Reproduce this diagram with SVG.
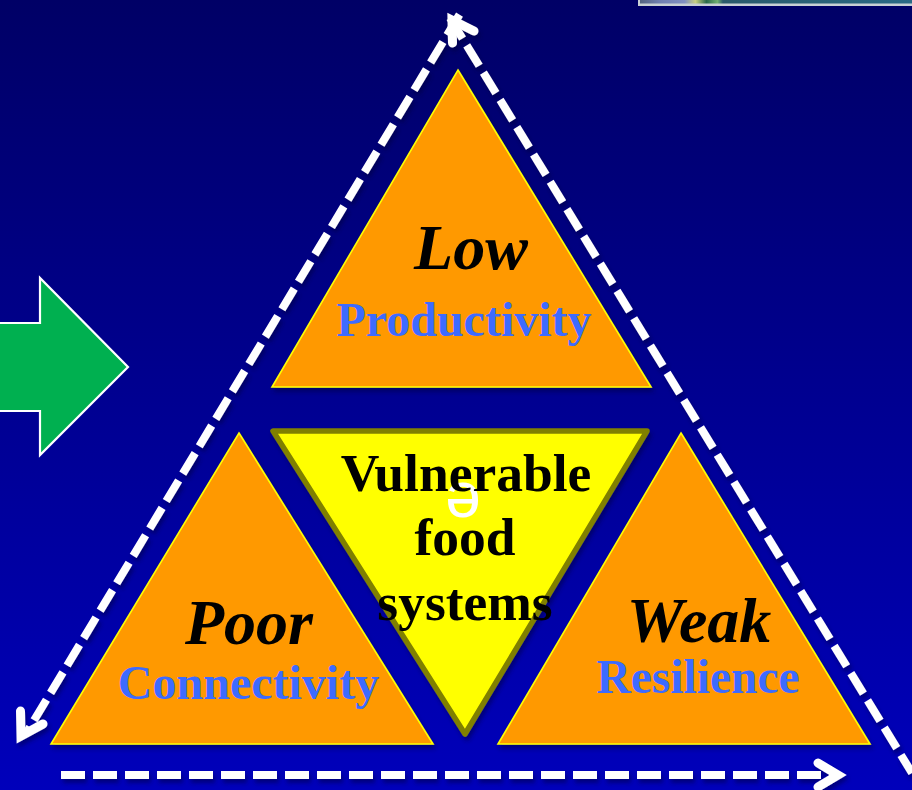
<svg xmlns="http://www.w3.org/2000/svg" width="912" height="790" viewBox="0 0 912 790">
<defs>
<linearGradient id="bg" x1="0" y1="0" x2="0" y2="1"><stop offset="0" stop-color="#000066"/><stop offset="1" stop-color="#0000bb"/></linearGradient>
<linearGradient id="inset" x1="638" y1="0" x2="912" y2="0" gradientUnits="userSpaceOnUse"><stop offset="0" stop-color="#50607a"/><stop offset="0.08" stop-color="#7080b0"/><stop offset="0.17" stop-color="#8090c0"/><stop offset="0.21" stop-color="#c8d080"/><stop offset="0.25" stop-color="#2a6a4a"/><stop offset="0.29" stop-color="#70b070"/><stop offset="0.31" stop-color="#2a5a6a"/><stop offset="1" stop-color="#2a6a85"/></linearGradient>
<filter id="sh" x="-10%" y="-10%" width="120%" height="120%"><feDropShadow dx="2" dy="4" stdDeviation="2" flood-color="#000033" flood-opacity="0.45"/></filter>
</defs>
<style>
.tri{fill:#ff9900;stroke:#ffff00;stroke-width:1.6;stroke-linejoin:miter;filter:url(#sh)}
.dash{fill:none;stroke:#fff;stroke-width:8;stroke-dasharray:24 8}
.head{fill:none;stroke:#fff;stroke-width:9;stroke-linejoin:miter;stroke-miterlimit:10;stroke-linecap:round}
text{font-family:"Liberation Serif","Times New Roman",serif;font-weight:bold;text-anchor:middle}
.big{font-size:64px;font-style:italic;fill:#000}
.sub{fill:#3d6bff;font-size:48px}
.mid{font-size:53.5px;fill:#000}
</style>
<rect width="912" height="790" fill="url(#bg)"/>
<g id="inset-picture"><rect x="638" y="0" width="274" height="6" fill="#c8d0d4"/><rect x="640" y="0" width="272" height="3.5" fill="url(#inset)"/></g>
<g id="connectors" filter="url(#sh)">
<path class="dash" d="M459.5 14.600L27 732"/>
<path class="dash" d="M450 18L912 773"/>
<path class="dash" d="M61 775H838"/>
<path class="head" d="M452.500 43L452 20L474 31"/>
<path class="head" d="M20.500 711L21 736L43 724"/>
<path class="head" d="M818 763L838 775L818 787"/>
</g>
<g id="arrow"><path d="M-3 323H40V278L128 367L40 455V411H-3Z" fill="#00b050" stroke="#fff" stroke-width="2.2"/></g>
<g id="low"><path class="tri" d="M458 70L651 387H272Z"/><text class="big" x="471" y="269">Low</text><text class="sub" x="464" y="336">Productivity</text></g>
<g id="poor"><path class="tri" d="M239 433L433 744H51Z"/><text class="big" x="249" y="644">Poor</text><text class="sub" x="248.500" y="699">Connectivity</text></g>
<g id="weak"><path class="tri" d="M681 433L870 744H498Z"/><text class="big" x="699" y="642">Weak</text><text class="sub" x="698" y="693" style="font-size:47.500px">Resilience</text></g>
<g id="center"><path d="M273 431H647L465 734Z" fill="#ffff00" stroke="#808000" stroke-width="5.5" stroke-linejoin="round" filter="url(#sh)"/>
<text x="463" y="517" font-size="64" fill="#fff" style="font-family:'Liberation Sans',sans-serif;font-weight:normal" transform="rotate(180 463 500)">e</text>
<text class="mid" x="466" y="491">Vulnerable</text><text class="mid" x="465" y="555">food</text><text class="mid" x="465" y="620">systems</text></g>
</svg>
